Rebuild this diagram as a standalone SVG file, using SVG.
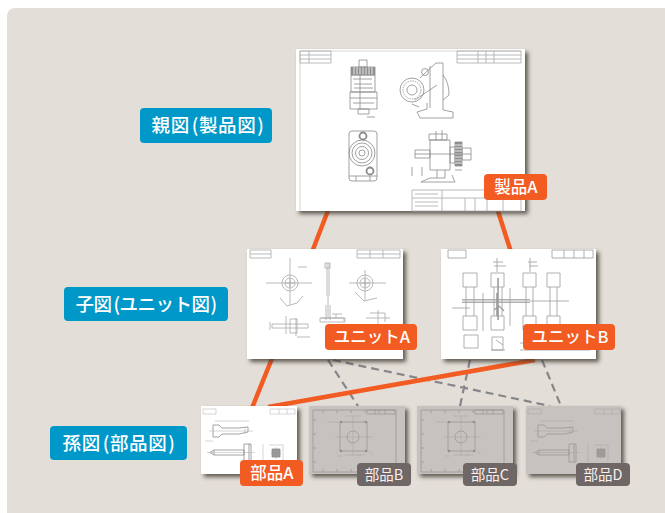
<svg xmlns="http://www.w3.org/2000/svg" width="665" height="513" viewBox="0 0 665 513">
<style>
text{font-family:"Noto Sans CJK JP","Noto Sans",sans-serif;fill:#fff;text-anchor:middle}
.lv{font-size:18.5px;font-weight:500;letter-spacing:.6px}
.or{font-size:16.5px;font-weight:500}
.gy{font-size:14.5px;font-weight:400;fill:#fbeeee}
.b{fill:#0098c8}.o{fill:#f25b22}.g{fill:#6e6765}
.sheet{fill:#fff;filter:url(#sh)}
.art{fill:none;stroke:#8a8a8a;stroke-width:.8;filter:url(#bl)}
.lt{stroke:#b8b8b8;stroke-width:.6}
.dk{fill:#777;stroke:none}
.solid{stroke:#f25b22;stroke-width:4.5;fill:none}
.dash{stroke:#85868a;stroke-width:2.2;stroke-dasharray:8 5;fill:none}
.veil{fill:#a39d99;opacity:.62}
</style>
<defs>
<filter id="sh" x="-10%" y="-10%" width="125%" height="125%"><feDropShadow dx="3" dy="3" stdDeviation="2" flood-color="#3c3833" flood-opacity=".8"/></filter>
<filter id="bl" x="-5%" y="-5%" width="110%" height="110%"><feGaussianBlur stdDeviation=".45"/></filter>
<g id="partDraw" class="art">
<path d="M2 3H15V8H2ZM69 3H94V8H69ZM78 3V8M86 3V8" class="lt"/>
<path d="M12 19H18L21 22H38L47 21V26L38 28H21L18 31H12Z"/>
<path d="M8 25H52M44 22V28M14 15H48M12 35H4" class="lt"/>
<path d="M13 44H43V49H13ZM43 38H50V56H43ZM48 38V56M13 44L9 46.500L13 49"/>
<path d="M6 46.500H54M62 38V56" class="lt"/>
<path d="M70 47H80M75 41V53M68 39H82V55" class="lt"/>
<path d="M71 43H79V51H71Z" fill="#999"/>
</g>
<g id="plateDraw" class="art">
<path d="M4 4H87V66H4Z"/>
<path d="M14 4V7M28 4V7M42 4V7M56 4V7M70 4V7M14 63V66M28 63V66M42 63V66M70 63V66M4 14H7M4 28H7M4 42H7M4 56H7"/>
<path d="M58 4H86V8H58ZM66 4V8M76 4V8"/>
<path d="M31 16H58V45H31Z"/>
<circle cx="44" cy="31" r="6"/>
<path d="M26 31H64M44 10V50M36 10H52M18 16H30M36 49H52" class="lt"/>
<circle cx="32" cy="16" r="1.300" class="dk"/><circle cx="57" cy="16" r="1.300" class="dk"/><circle cx="32" cy="45" r="1.300" class="dk"/><circle cx="57" cy="45" r="1.300" class="dk"/>
<path d="M28 50H33M48 49L56 49M60 45L64 49M70 61H82" class="lt"/>
</g>
</defs>

<rect width="665" height="513" fill="#fff"/>
<rect x="7" y="8" width="680" height="530" rx="8" fill="#e3dfd8"/>

<g id="connectors">
<path class="dash" d="M328 360L358 406M333 360L550 406M470 360L460 406M542 360L561 406"/>
<path class="solid" d="M329 208L312 252M497 208L511 252M273 356L252 408M535 360L268 407"/>
</g>

<g id="sheet-product">
<rect class="sheet" x="296" y="49" width="229" height="162"/>
<g class="art">
<path d="M300 51H521M300 51V211" class="lt"/>
<path d="M300 51H331V63H300ZM300 55H331M300 59H331M309 51V63M457 51H521V63H457ZM457 55H521M457 59H521M478 51V63M486 51V63M494 51V63" stroke="#a8a8a8"/>
<path d="M412 190H521V211H412ZM412 198H521M442 190V211M465 198V211M475 198V211M487 198V211M503 198V211M415 194H438M415 202H438M415 206H438" stroke="#a8a8a8"/>
<path d="M351 67H375V75H351Z" fill="#8f8f8f"/>
<path d="M354 67V75M357 67V75M360 67V75M363 67V75M366 67V75M369 67V75M372 67V75" stroke="#fff"/>
<path d="M359 60H367V67H359ZM351 75H375V92H351ZM350 92H377V109H350ZM358 109H369V114H358ZM350 98H377M354 84H372M353 79H372M354 88H373M353 103H374M360 75V109"/>
<path d="M367 117H375"/>
<circle cx="412" cy="90" r="12"/><circle cx="412" cy="90" r="9" stroke-dasharray="1.500 1"/><circle cx="412" cy="90" r="5"/>
<path d="M420 78Q428 70 436 63H443L443 110L453 112V118H420L417 112L427 109V103M430 66L430 108M443 75Q449 82 449 95L443 100M415 100L437 85M412 104L419 107"/>
<circle cx="425" cy="72" r="3.500"/>
<rect x="349" y="131" width="28" height="50" rx="3"/>
<circle cx="362" cy="153" r="13"/><circle cx="362" cy="153" r="10"/><circle cx="362" cy="153" r="6.500"/><circle cx="362" cy="153" r="3"/>
<circle cx="363" cy="136" r="3.500" stroke-width="1.800"/><circle cx="370" cy="171" r="3.500" stroke-width="1.800"/>
<path d="M349 176H377M356 176V181M370 176V181"/>
<path d="M415 150H430V158H415ZM430 140H450V170H430ZM429 134H447V140H429ZM436 131V140M442 130V140M450 147H455V163H450ZM462 148H471V160H462Z"/>
<path d="M455 142H462V166H455Z" fill="#8f8f8f"/>
<path d="M455 145H462M455 148H462M455 151H462M455 154H462M455 157H462M455 160H462M455 163H462" stroke="#fff"/>
<path d="M437 170V178M445 170V178M452 175L455 182H421L430 178H445M415 154H471M412 167V176M422 167V176M455 170H462"/>
</g>
</g>

<g id="sheet-unit-a">
<rect class="sheet" x="247" y="249" width="156" height="110"/>
<g class="art" style="stroke:#a8a8a8">
<path d="M250 250H271V258H250ZM357 250H400V258H357ZM250 254H271M357 254H400M370 250V258M383 250V258"/>
<circle cx="290" cy="283" r="8"/><circle cx="290" cy="283" r="5"/><path d="M286 283H294M290 279V287M266 283H312M290 258V305M280 298L287 306L297 303L303 296M298 267H307"/>
<circle cx="365" cy="283" r="8"/><circle cx="365" cy="283" r="5"/><path d="M361 283H369M365 279V287M349 283H386M365 270V300M355 292L364 301L377 298"/>
<path d="M327 263V296M329 263V296M325 263H330V268H325ZM328 296V318M326 305V320M330 305V320"/>
<path d="M272 324H308V328H272ZM286 316V334M296 318V336M270 322V330M290 319H297V333H290Z"/>
<path d="M321 318H344V321M320 318H345V322H320ZM332 314H342M336 318V314M366 318H390M370 313H385V322M378 310V324"/>
<path d="M297 337H310"/>
</g>
</g>

<g id="sheet-unit-b">
<rect class="sheet" x="441" y="249" width="155" height="110"/>
<g class="art" style="stroke:#9c9c9c">
<path d="M448 250H466V258H448ZM552 250H593V258H552ZM564 250V258M574 250V258M584 250V258"/>
<path d="M463 273H477V287H463ZM491 273H504V287H491ZM523 273H536V287H523ZM547 273H560V287H547Z"/>
<path d="M466 287V316M474 287V316M494 287V316M502 287V316M526 287V316M533 287V316M550 287V316M557 287V316"/>
<path d="M463 316H477V330H463ZM491 316H504V330H491ZM523 316H536V330H523ZM547 316H560V330H547Z"/>
<path d="M462 301H569M462 299.500H530M462 302.500H530"/>
<path d="M464 335H478V348H464ZM492 337H503V350H492ZM496 340L503 345M491 350H505M452 308H470M483 293V331M510 288V326"/>
<path d="M498 278V320M497 293V316" stroke-width="1.600"/>
<path d="M494 310L499 306L504 311" stroke-width="1.300"/>
<path d="M493 262H503M494 266H506M528 262H537M529 266H538M497 258V272M530 258V272"/>
<path d="M520 343H590M520 350H590"/>
</g>
</g>

<g id="sheet-part-a">
<rect class="sheet" x="201" y="406" width="96" height="68"/>
<use href="#partDraw" x="201" y="406"/>
</g>
<g id="sheet-part-b">
<rect class="sheet" x="309" y="406" width="96" height="68"/>
<use href="#plateDraw" x="309" y="406"/>
<rect class="veil" x="309" y="406" width="96" height="68"/>
</g>
<g id="sheet-part-c">
<rect class="sheet" x="417" y="406" width="96" height="68"/>
<use href="#plateDraw" x="417" y="406"/>
<rect class="veil" x="417" y="406" width="96" height="68"/>
</g>
<g id="sheet-part-d">
<rect class="sheet" x="526" y="406" width="95" height="68"/>
<use href="#partDraw" x="526" y="406"/>
<rect class="veil" x="526" y="406" width="95" height="68"/>
</g>

<g id="level-parent"><rect class="b" x="140" y="108" width="132" height="35" rx="4"/><text class="lv" x="208" y="132">親図<tspan dx="2">(</tspan>製品図<tspan dx="1">)</tspan></text></g>
<g id="level-child"><rect class="b" x="64" y="287" width="164" height="34" rx="4"/><text class="lv" x="146" y="310.500" style="letter-spacing:-.5px">子図<tspan dx="2">(</tspan>ユニット図<tspan dx="1">)</tspan></text></g>
<g id="level-grandchild"><rect class="b" x="50" y="426" width="137" height="34" rx="4"/><text class="lv" x="119" y="449.500">孫図<tspan dx="2">(</tspan>部品図<tspan dx="1">)</tspan></text></g>

<g id="label-product-a"><rect class="o" x="484" y="174" width="63" height="26" rx="4"/><text class="or" x="516" y="193">製品A</text></g>
<g id="label-unit-a"><rect class="o" x="325" y="324" width="92" height="26" rx="4"/><text class="or" x="372" y="343">ユニットA</text></g>
<g id="label-unit-b"><rect class="o" x="523" y="324" width="92" height="26" rx="4"/><text class="or" x="570" y="343">ユニットB</text></g>
<g id="label-part-a"><rect class="o" x="240" y="460" width="63" height="26" rx="4"/><text class="or" x="272" y="479">部品A</text></g>
<g id="label-part-b"><rect class="g" x="357" y="463" width="54" height="23" rx="4"/><text class="gy" x="384" y="480">部品B</text></g>
<g id="label-part-c"><rect class="g" x="463" y="463" width="54" height="23" rx="4"/><text class="gy" x="490" y="480">部品C</text></g>
<g id="label-part-d"><rect class="g" x="576" y="463" width="54" height="23" rx="4"/><text class="gy" x="603" y="480">部品D</text></g>
</svg>
